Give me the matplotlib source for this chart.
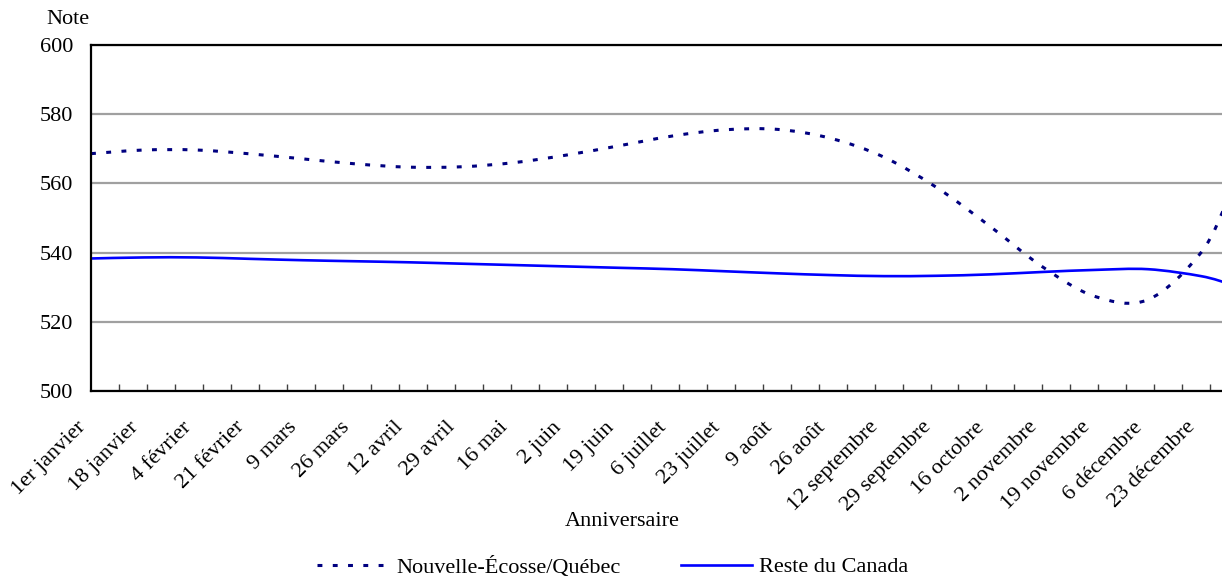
import numpy as np
import matplotlib
matplotlib.use('Agg')
import matplotlib.pyplot as plt
from matplotlib.path import Path
from matplotlib.patches import PathPatch
from matplotlib.lines import Line2D
from matplotlib.transforms import ScaledTranslation

plt.rcParams['font.family'] = ['Liberation Serif', 'DejaVu Serif']
plt.rcParams['font.size'] = 16

# day of year (leap year), one point every 17 days
days = [0, 17, 34, 51, 68, 85, 102, 119, 136, 153, 170, 187, 204, 221,
        238, 255, 272, 289, 306, 323, 340, 357, 366]
ns_qc = [568.6, 569.65, 569.65, 568.55, 567.1, 565.65, 564.7, 564.8, 566.0,
         568.2, 570.9, 573.7, 575.5, 575.6, 573.0, 567.6, 558.8, 547.7,
         535.9, 527.3, 526.4, 540.0, 556.0]
rest_canada = [538.3, 538.6, 538.6, 538.2, 537.8, 537.5, 537.2, 536.8, 536.4,
               536.0, 535.6, 535.2, 534.6, 534.0, 533.5, 533.2, 533.3, 533.7,
               534.4, 535.0, 535.2, 533.2, 531.0]

tick_labels = ['1er janvier', '18 janvier', '4 février', '21 février', '9 mars',
               '26 mars', '12 avril', '29 avril', '16 mai', '2 juin', '19 juin',
               '6 juillet', '23 juillet', '9 août', '26 août', '12 septembre',
               '29 septembre', '16 octobre', '2 novembre', '19 novembre',
               '6 décembre', '23 décembre']
label_days = days[:len(tick_labels)]


def smooth_path(xs, ys):
    # Catmull-Rom curve through the points, written as cubic Bezier segments
    pts = np.column_stack([xs, ys]).astype(float)
    n = len(pts)
    verts = [pts[0]]
    codes = [Path.MOVETO]
    for i in range(n - 1):
        p0 = pts[i - 1] if i > 0 else pts[i]
        p1 = pts[i]
        p2 = pts[i + 1]
        p3 = pts[i + 2] if i + 2 < n else pts[i + 1]
        c1 = p1 + (p2 - p0) / 6.0
        c2 = p2 - (p3 - p1) / 6.0
        verts += [c1, c2, p2]
        codes += [Path.CURVE4] * 3
    return Path(verts, codes)


fig = plt.figure(figsize=(12.22, 5.80), dpi=100)
ax = fig.add_axes([91 / 1222, 1 - 391 / 580, (1229 - 91) / 1222, 346 / 580])

ax.set_xlim(0, 366)
ax.set_ylim(500, 600)
ax.set_yticks(np.arange(500, 601, 20))
ax.yaxis.grid(True, color='#a0a0a0', linewidth=1.6)
ax.set_axisbelow(True)

dotted = PathPatch(smooth_path(days, ns_qc), fill=False, edgecolor='#000080',
                   linewidth=2.2, linestyle=(0, (1.6, 3.4)), capstyle='butt')
solid = PathPatch(smooth_path(days, rest_canada), fill=False, edgecolor='#0000ff',
                  linewidth=1.9)
ax.add_patch(dotted)
ax.add_patch(solid)

for side in ['left', 'bottom', 'top']:
    ax.spines[side].set_linewidth(1.6)
    ax.spines[side].set_color('black')
ax.spines['right'].set_visible(False)

ax.set_xticks(label_days)
ax.set_xticklabels(tick_labels, rotation=45, ha='right', rotation_mode='anchor')
ax.set_xticks(np.arange(9, 366, 9), minor=True)
ax.xaxis.remove_overlapping_locs = False
ax.tick_params(axis='x', which='major', length=0, pad=10)
ax.tick_params(axis='x', which='minor', direction='in', length=5, width=1,
               color='#404040')
ax.tick_params(axis='y', length=0, pad=13)

# shift the slanted date labels down and to the left
shift = ScaledTranslation(-0.15, -0.13, fig.dpi_scale_trans)
for lbl in ax.get_xticklabels():
    lbl.set_transform(lbl.get_transform() + shift)

fig.text(68 / 1222, 1 - 19 / 580, 'Note', ha='center', va='center')
fig.text(622 / 1222, 1 - 521 / 580, 'Anniversaire', ha='center', va='center')

handles = [Line2D([], [], color='#000080', linewidth=2.2, linestyle=(0, (1.6, 3.4))),
           Line2D([], [], color='#0000ff', linewidth=1.9)]
fig.legend(handles, ['Nouvelle-Écosse/Québec', 'Reste du Canada'],
           loc='center', bbox_to_anchor=(613 / 1222, 1 - 567 / 580), ncol=2,
           frameon=False, handlelength=3.2, handletextpad=0.35, columnspacing=2.7)

fig.savefig('out.png', dpi=100)
